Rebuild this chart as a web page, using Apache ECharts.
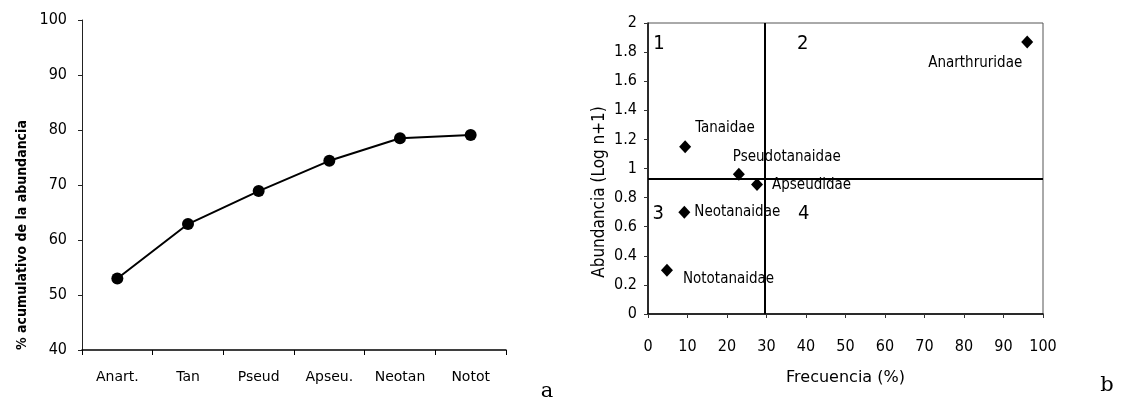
<!DOCTYPE html>
<html><head><meta charset="utf-8">
<script src="https://cdn.jsdelivr.net/npm/echarts@6/dist/echarts.min.js"></script>
<style>html,body{margin:0;padding:0;background:#fff}#c{width:1127px;height:403px}</style>
</head><body><div id="c"></div>
<script>
// Panel a: cumulative abundance
var catsA = ['Anart.', 'Tan', 'Pseud', 'Apseu.', 'Neotan', 'Notot'];
var valsA = [53.0, 62.9, 68.9, 74.4, 78.5, 79.1];
// Panel b: frequency vs abundance
var famNames = ['Anarthruridae', 'Tanaidae', 'Pseudotanaidae', 'Apseudidae', 'Neotanaidae', 'Nototanaidae'];
var famFreq = [96, 9.4, 23, 27.6, 9.2, 4.8];
var famAbund = [1.87, 1.15, 0.96, 0.89, 0.70, 0.30];
var cutFreq = 29.6;
var cutAbund = 0.925;
var quadNames = ['1', '2', '3', '4'];
var quadFreq = [2.8, 39.2, 2.6, 39.4];
var quadAbund = [1.86, 1.86, 0.69, 0.69];

var narrow = '"Liberation Sans Narrow","DejaVu Sans Condensed","Arial Narrow",sans-serif';
var labelStyle = {
  'Anarthruridae': {align: 'right', offset: [-5, 21]},
  'Tanaidae': {align: 'left', offset: [10, -19]},
  'Pseudotanaidae': {align: 'left', offset: [-6, -17]},
  'Apseudidae': {align: 'left', offset: [15, 1]},
  'Neotanaidae': {align: 'left', offset: [10, 0]},
  'Nototanaidae': {align: 'left', offset: [16, 9]}
};

var chart = echarts.init(document.getElementById('c'), null, {renderer: 'canvas'});
var option = {
  backgroundColor: '#fff',
  animation: false,
  grid: [
    {left: 82, top: 20, width: 424, height: 330},
    {left: 648, top: 23, width: 395, height: 291, show: true, borderColor: '#555', borderWidth: 1}
  ],
  xAxis: [
    {
      gridIndex: 0, type: 'category', data: catsA, boundaryGap: true,
      axisLine: {lineStyle: {color: '#000', width: 1.5}},
      axisTick: {show: true, length: 5, lineStyle: {color: '#000'}},
      axisLabel: {color: '#000', fontSize: 14, margin: 20, fontFamily: '"DejaVu Sans", sans-serif'},
      splitLine: {show: false}
    },
    {
      gridIndex: 1, type: 'value', min: 0, max: 100, interval: 10,
      axisLine: {lineStyle: {color: '#000', width: 1.5}},
      axisTick: {show: true, length: 4, lineStyle: {color: '#333'}},
      axisLabel: {color: '#000', fontSize: 16, margin: 25, fontFamily: narrow},
      splitLine: {show: false},
      name: 'Frecuencia (%)', nameLocation: 'middle', nameGap: 56,
      nameTextStyle: {color: '#000', fontSize: 16, fontFamily: '"DejaVu Sans", sans-serif'}
    }
  ],
  yAxis: [
    {
      gridIndex: 0, type: 'value', min: 40, max: 100, interval: 10,
      axisLine: {show: true, lineStyle: {color: '#222', width: 1}},
      axisTick: {show: true, length: 4, lineStyle: {color: '#222'}},
      axisLabel: {color: '#000', fontSize: 16, margin: 15, fontFamily: narrow},
      splitLine: {show: false}
    },
    {
      gridIndex: 1, type: 'value', min: 0, max: 2, interval: 0.2,
      axisLine: {show: true, lineStyle: {color: '#000', width: 1.5}},
      axisTick: {show: true, length: 4, lineStyle: {color: '#333'}},
      axisLabel: {color: '#000', fontSize: 16, margin: 11, fontFamily: narrow,
        formatter: function (v) { return String(Math.round(v * 10) / 10); }},
      splitLine: {show: false}
    }
  ],
  graphic: [
    {type: 'text', x: 22, y: 235, rotation: Math.PI / 2,
      style: {text: '% acumulativo de la abundancia', fill: '#000', font: 'bold 14px ' + narrow, textAlign: 'center', textVerticalAlign: 'middle'}},
    {type: 'text', x: 600, y: 192, rotation: Math.PI / 2,
      style: {text: 'Abundancia (Log n+1)', fill: '#000', font: '17px ' + narrow, textAlign: 'center', textVerticalAlign: 'middle'}},
    {type: 'text', x: 547, y: 392,
      style: {text: 'a', fill: '#000', font: '21px "DejaVu Serif", "Liberation Serif", serif', textAlign: 'center', textVerticalAlign: 'middle'}},
    {type: 'text', x: 1107, y: 386,
      style: {text: 'b', fill: '#000', font: '21px "DejaVu Serif", "Liberation Serif", serif', textAlign: 'center', textVerticalAlign: 'middle'}}
  ],
  series: [
    {
      type: 'line', xAxisIndex: 0, yAxisIndex: 0, data: valsA,
      symbol: 'circle', symbolSize: 12,
      lineStyle: {color: '#000', width: 2},
      itemStyle: {color: '#000', opacity: 1}
    },
    {
      type: 'scatter', xAxisIndex: 1, yAxisIndex: 1,
      symbol: 'diamond', symbolSize: [12, 13],
      itemStyle: {color: '#000', opacity: 1},
      data: famNames.map(function (n, i) {
        var ls = labelStyle[n];
        return {name: n, value: [famFreq[i], famAbund[i]],
          label: {show: true, position: 'inside', align: ls.align, verticalAlign: 'middle', offset: ls.offset,
            formatter: '{b}', color: '#000', fontSize: 15, fontFamily: narrow}};
      }),
      markLine: {
        silent: true, symbol: 'none', animation: false,
        label: {show: false},
        lineStyle: {color: '#000', width: 2, type: 'solid', opacity: 1},
        data: [{xAxis: cutFreq}, {yAxis: cutAbund}]
      },
      z: 3
    },
    {
      type: 'scatter', xAxisIndex: 1, yAxisIndex: 1, symbolSize: 0,
      itemStyle: {opacity: 1},
      data: quadNames.map(function (n, i) { return {name: n, value: [quadFreq[i], quadAbund[i]]}; }),
      label: {show: true, position: 'inside', formatter: '{b}', color: '#000', fontSize: 20, fontFamily: narrow},
      silent: true
    }
  ]
};
chart.setOption(option);
</script>
</body></html>
